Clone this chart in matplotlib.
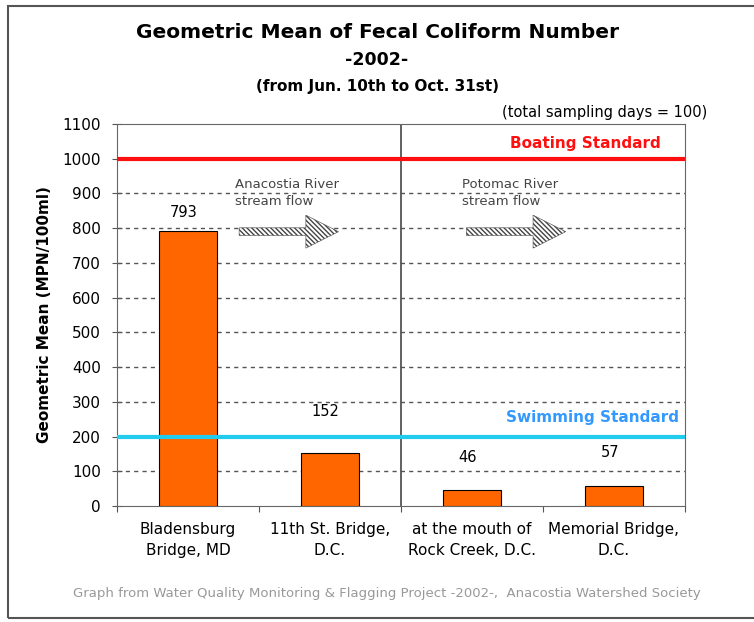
import matplotlib.pyplot as plt
import numpy as np
from matplotlib.patches import Rectangle, FancyArrow

# donnees
sites = ["Bladensburg\nBridge, MD", "11th St. Bridge,\nD.C.", "at the mouth of\nRock Creek, D.C.", "Memorial Bridge,\nD.C."]
geo_mean = [793, 152, 46, 57]
label_y = [844, 271, 141, 153]   # centre des etiquettes de valeur
boating_std = 1000
swimming_std = 200
yticks = list(range(0, 1101, 100))

plt.rcParams['font.family'] = ['DejaVu Sans']

fig = plt.figure(figsize=(7.54, 6.22), dpi=100)
fig.patches.append(Rectangle((8/754, 4/622), 752/754, 612/622, transform=fig.transFigure,
                             fill=False, edgecolor='#555555', linewidth=1.5))

ax = fig.add_axes([117/754, 1-506/622, 568/754, 382/622])
x = np.arange(len(sites))
ax.bar(x, geo_mean, width=0.41, color='#FF6600', edgecolor='black', linewidth=0.8, zorder=3)
ax.set_xlim(-0.5, 3.5)
ax.set_ylim(0, 1100)
ax.set_yticks(yticks)
ax.set_yticklabels([str(t) for t in yticks], fontsize=11)
ax.set_xticks([-0.5, 0.5, 1.5, 2.5, 3.5])
ax.set_xticklabels([])
ax.tick_params(axis='x', direction='out', length=4, color='#555555')
ax.tick_params(axis='y', direction='inout', length=7, color='#555555', pad=8)
for t in yticks[1:10]:
    ax.axhline(t, color='#555555', linestyle=(0, (3, 3)), linewidth=1, zorder=1)
for s in ax.spines.values():
    s.set_color('#666666')
ax.axvline(1.5, color='#555555', linewidth=1.3, zorder=2)
ax.axhline(boating_std, color='#FF1010', linewidth=3, zorder=4)
ax.axhline(swimming_std, color='#22CCEE', linewidth=3, zorder=4)

for i, s in enumerate(sites):
    ax.text(i, -45, s, ha='center', va='top', fontsize=11, linespacing=1.5)
for i, v in enumerate(geo_mean):
    ax.text(i - 0.03, label_y[i], str(v), ha='center', va='center', fontsize=10.5)

ax.text(3.5 - 0.17, 1045, "Boating Standard", color='#FF1010', fontsize=11, fontweight='bold',
        ha='right', va='center')
ax.text(3.5 - 0.04, 255, "Swimming Standard", color='#3399FF', fontsize=11, fontweight='bold',
        ha='right', va='center')

# fleches du courant
for x0, lab in [(0.33, "Anacostia River\nstream flow"), (1.93, "Potomac River\nstream flow")]:
    ax.text(x0, 902, lab, fontsize=9.5, color='#444444', va='center', ha='left', linespacing=1.4)
    ax.add_patch(FancyArrow(x0 + 0.03, 790, 0.70, 0, width=22, head_width=95, head_length=0.23,
                            length_includes_head=True, facecolor='white', edgecolor='#444444',
                            hatch='\\\\\\\\\\\\\\', linewidth=0.4, zorder=5))

ax.set_ylabel("Geometric Mean (MPN/100ml)", fontsize=11, fontweight='bold')
ax.yaxis.set_label_coords(-0.115, 0.5)

fig.text(0.5, 1-33/622, "Geometric Mean of Fecal Coliform Number", ha='center', va='center',
         fontsize=14.5, fontweight='bold')
fig.text(0.5, 1-60/622, "-2002-", ha='center', va='center', fontsize=12.5, fontweight='bold')
fig.text(0.5, 1-87/622, "(from Jun. 10th to Oct. 31st)", ha='center', va='center',
         fontsize=11, fontweight='bold')
fig.text(707/754, 1-113/622, "(total sampling days = 100)", ha='right', va='center', fontsize=10.5)
fig.text(387/754, 1-593/622, "Graph from Water Quality Monitoring & Flagging Project -2002-,  Anacostia Watershed Society",
         ha='center', va='center', fontsize=9.5, color='#999999')

fig.savefig('out.png', dpi=100)
